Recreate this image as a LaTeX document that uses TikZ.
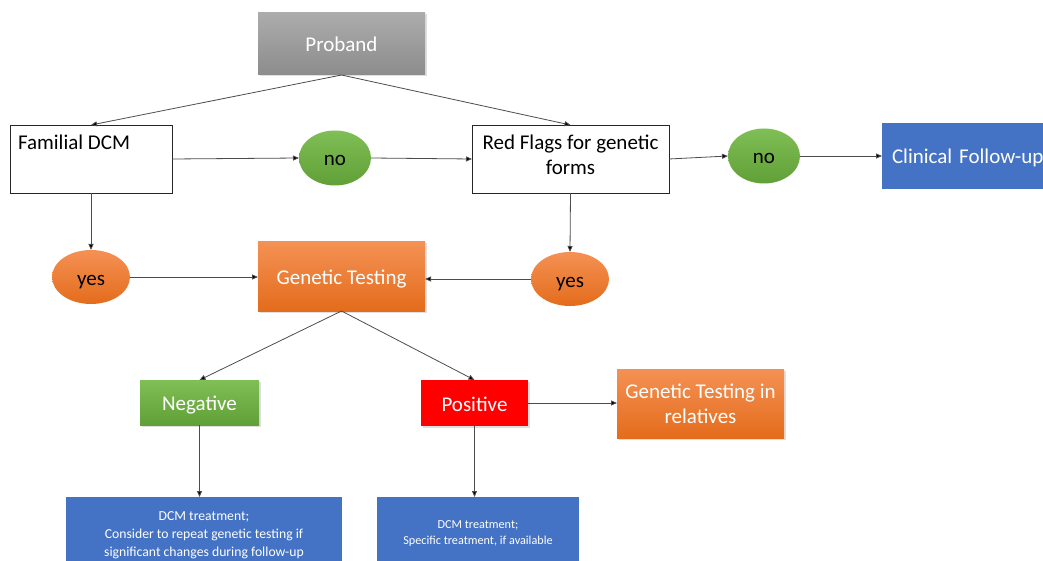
\documentclass[tikz,border=0pt]{standalone}
\usepackage{fontspec}
\setmainfont{Carlito}
\usetikzlibrary{arrows.meta,shapes.geometric,shadows}
\definecolor{cblue}{RGB}{68,114,196}
\definecolor{cred}{RGB}{255,0,0}
\definecolor{oTop}{RGB}{244,145,84}
\definecolor{oBot}{RGB}{228,108,28}
\definecolor{gTop}{RGB}{128,190,86}
\definecolor{gBot}{RGB}{96,160,54}
\definecolor{grTop}{RGB}{172,172,172}
\definecolor{grBot}{RGB}{140,140,140}
\tikzset{
  every node/.style={inner sep=0pt, outer sep=0pt},
  big/.style={font=\fontsize{21}{25}\selectfont},
  one/.style={text height=19pt, text depth=3pt},
  wbox/.style={draw=black!85, line width=0.9pt, fill=white},
  sbox/.style={big, text=white, drop shadow={shadow xshift=1.5pt, shadow yshift=-1.5pt, opacity=0.25}},
  obox/.style={sbox, top color=oTop, bottom color=oBot},
  gbox/.style={sbox, top color=gTop, bottom color=gBot},
  oell/.style={ellipse, top color=oTop, bottom color=oBot, big, one, text=black, minimum width=78, minimum height=54},
  gell/.style={ellipse, top color=gTop, bottom color=gBot, big, one, text=black, minimum width=72, minimum height=55},
  conn/.style={draw=black!70, line width=0.8pt, -{Triangle[length=6pt,width=5pt,fill=black]}},
}
\begin{document}
\begin{tikzpicture}[x=1pt,y=-1pt]
\useasboundingbox (0,0) rectangle (1043,561);
\node[sbox, one, top color=grTop, bottom color=grBot, minimum width=167, minimum height=62] (prob) at (341.5,44) {Proband};
\node[wbox, minimum width=162, minimum height=68] (fam) at (91,159) {};
\node[big, anchor=west] at (18,142) {Familial DCM};
\node[gell] (no1) at (335,158) {no};
\node[wbox, minimum width=197, minimum height=68] (rf) at (570.5,159) {};
\node[big, align=center] at (570.5,154.5) {Red Flags for genetic\\forms};
\node[gell] (no2) at (764,156) {no};
\node[big, one, fill=cblue, text=white, minimum width=175, minimum height=66, anchor=west, text width=155, align=left, inner xsep=10pt] (clin) at (882,156) {Clinical Follow-up};
\node[oell] (yes1) at (91,277) {yes};
\node[obox, one, minimum width=167, minimum height=69] (gt) at (341.5,276.5) {Genetic Testing};
\node[oell] (yes2) at (570,279) {yes};
\node[gbox, one, minimum width=119, minimum height=45] (neg) at (199.5,402.5) {Negative};
\node[sbox, one, fill=cred, minimum width=107, minimum height=46] (pos) at (474.5,403) {Positive};
\node[obox, minimum width=167, minimum height=69, align=center] (rel) at (700.5,403.5) {Genetic Testing in\\relatives};
\node[fill=cblue, text=white, minimum width=276, minimum height=72, align=center, font=\fontsize{13.7}{18}\selectfont] (bl) at (204,533) {};
\node[text=white, align=center, font=\fontsize{13.7}{18}\selectfont] at (204,535) {DCM treatment;\\Consider to repeat genetic testing if\\significant changes during follow-up};
\node[fill=cblue, text=white, minimum width=202, minimum height=72, align=center, font=\fontsize{12.2}{16}\selectfont] (br) at (478,533) {};
\node[text=white, align=center, font=\fontsize{12.2}{16}\selectfont] at (478,534) {DCM treatment;\\Specific treatment, if available};
\draw[conn] (prob.south) -- (fam.north);
\draw[conn] (prob.south) -- (rf.north);
\draw[conn] (fam.east) -- (no1.west);
\draw[conn] (no1.east) -- (rf.west);
\draw[conn] (rf.east) -- (no2.west);
\draw[conn] (no2.east) -- (clin.west);
\draw[conn] (fam.south) -- (yes1.north);
\draw[conn] (rf.south) -- (yes2.north);
\draw[conn] (yes1.east) -- (gt.west |- yes1.east);
\draw[conn] (yes2.west) -- (gt.east |- yes2.west);
\draw[conn] (gt.south) -- (neg.north);
\draw[conn] (gt.south) -- (pos.north);
\draw[conn] (neg.south) -- (neg.south |- bl.north);
\draw[conn] (pos.south) -- (pos.south |- br.north);
\draw[conn] (pos.east) -- (rel.west |- pos.east);
\end{tikzpicture}
\end{document}
